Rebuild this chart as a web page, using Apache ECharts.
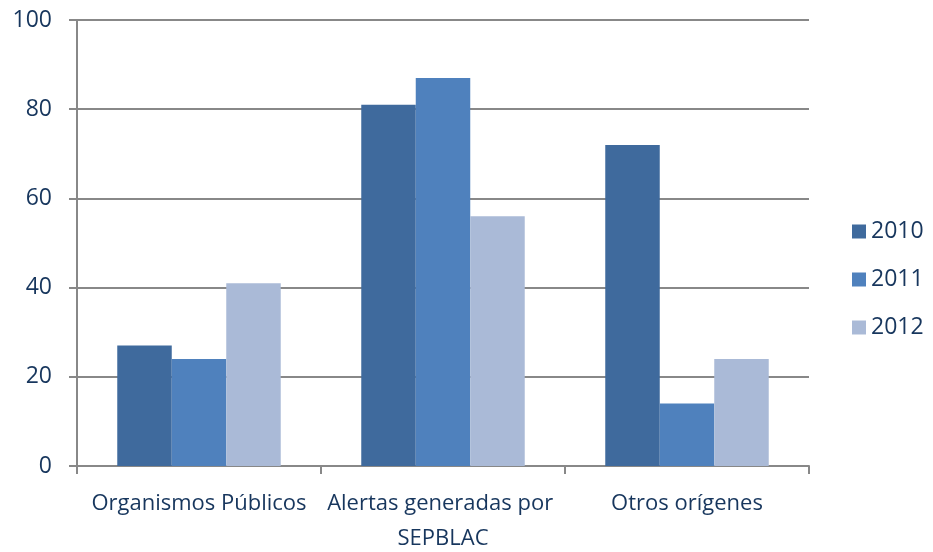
<!DOCTYPE html>
<html><head><meta charset="utf-8">
<script src="https://cdn.jsdelivr.net/npm/echarts@6/dist/echarts.min.js"></script>
<style>html,body{margin:0;padding:0;background:#fff}#c{width:933px;height:552px}</style>
</head><body><div id="c"></div>
<script>
const categories = ["Organismos Públicos", "Alertas generadas por SEPBLAC", "Otros orígenes"];
const seriesNames = ["2010", "2011", "2012"];
const v2010 = [27, 81, 72];
const v2011 = [24, 87, 14];
const v2012 = [41, 56, 24];
const colors = ["#3F6A9D", "#4F81BD", "#AABAD7"];
const textColor = "#17365D";
const font = "Open Sans";
const chart = echarts.init(document.getElementById('c'), null, {renderer: 'canvas'});
const vals = [v2010, v2011, v2012];
chart.setOption({
  animation: false,
  grid: {left: 77, right: 124, top: 20, bottom: 86, containLabel: false, outerBoundsMode: 'none'},
  legend: {
    orient: 'vertical', left: 847, top: 215, itemWidth: 14, itemHeight: 14, itemGap: 25,
    icon: 'rect',
    textStyle: {color: textColor, fontFamily: font, fontSize: 23},
    data: seriesNames
  },
  xAxis: {
    type: 'category', data: categories,
    axisLine: {lineStyle: {color: '#888', width: 2}},
    axisTick: {show: true, length: 8, lineStyle: {color: '#888', width: 2}},
    axisLabel: {color: textColor, fontFamily: font, fontSize: 22, margin: 20, lineHeight: 35,
      width: 244, overflow: 'break', interval: 0}
  },
  yAxis: {
    type: 'value', min: 0, max: 100, interval: 20,
    axisLine: {show: true, lineStyle: {color: '#888', width: 2}},
    axisTick: {show: true, length: 8, lineStyle: {color: '#888', width: 2}},
    splitLine: {lineStyle: {color: '#888', width: 2}},
    axisLabel: {color: textColor, fontFamily: font, fontSize: 23, margin: 25}
  },
  series: seriesNames.map((n, i) => ({
    name: n, type: 'bar', data: vals[i], barGap: '0%', barCategoryGap: '33%',
    itemStyle: {color: colors[i]}
  }))
});
</script></body></html>
